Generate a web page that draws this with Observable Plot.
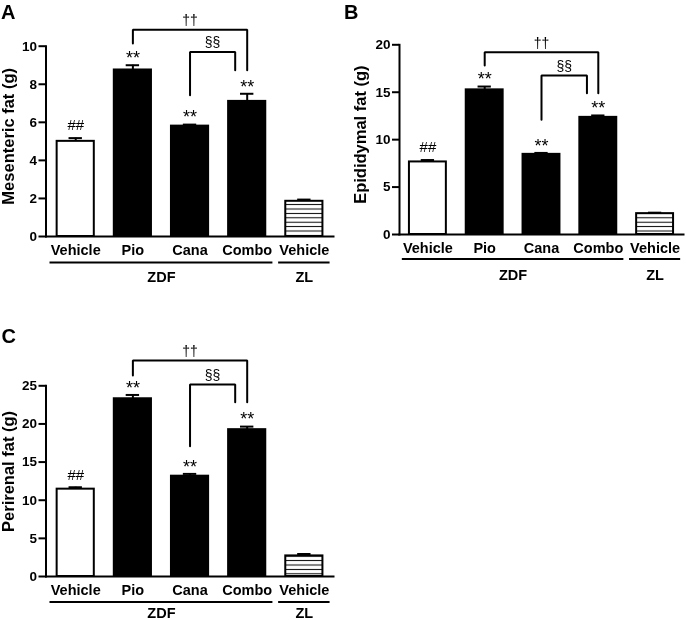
<!DOCTYPE html>
<html><head><meta charset="utf-8">
<script src="https://cdn.jsdelivr.net/npm/d3@7"></script>
<script src="https://cdn.jsdelivr.net/npm/@observablehq/plot@0.6"></script>
<style>
html,body{margin:0;padding:0;background:#fff;overflow:hidden;width:686px;height:620px}
#root{position:relative;width:686px;height:620px;font-family:"Liberation Sans",Arial,sans-serif;background:#fff}
.panel{position:absolute;will-change:transform}
.letter{position:absolute;font-weight:bold;font-size:20px;line-height:1;color:#000}
</style></head><body><div id="root"></div>
<script>
// ---- data ----
const categories = ["Vehicle", "Pio", "Cana", "Combo", "Vehicle"];
const groups = [{name: "ZDF", from: 0, to: 3}, {name: "ZL", from: 4, to: 4}];
const significance = ["##", "**", "**", "**", ""];

const mesentericMean = [5.0, 8.75, 5.8, 7.1, 1.85];
const mesentericErr  = [5.17, 9.0, 5.88, 7.5, 1.94];
const epididymalMean = [7.65, 15.25, 8.45, 12.35, 2.2];
const epididymalErr  = [7.85, 15.6, 8.6, 12.55, 2.3];
const perirenalMean  = [11.45, 23.3, 13.15, 19.25, 2.7];
const perirenalErr   = [11.7, 23.8, 13.45, 19.65, 2.95];

const mesentericTicks = [0, 2, 4, 6, 8, 10];
const epididymalTicks = [0, 5, 10, 15, 20];
const perirenalTicks  = [0, 5, 10, 15, 20, 25];

// significance brackets (x in category index, y in grams)
const mesentericBrackets = [
  {label: "††", from: 1, to: 3, level: 10.86, fromEnd: 10.14, toEnd: 8.74},
  {label: "§§", from: 2, to: 2.79, level: 9.7, fromEnd: 7.42, toEnd: 8.74}
];
const epididymalBrackets = [
  {label: "††", from: 1, to: 3, level: 19.22, fromEnd: 17.82, toEnd: 14.9},
  {label: "§§", from: 2, to: 2.8, level: 16.76, fromEnd: 12.09, toEnd: 14.9}
];
const perirenalBrackets = [
  {label: "††", from: 1, to: 3, level: 28.32, fromEnd: 26.35, toEnd: 22.85},
  {label: "§§", from: 2, to: 2.79, level: 25.17, fromEnd: 17.08, toEnd: 22.85}
];

// ---- drawing ----
const HALF = 0.325;  // half bar width (category units)
const CAP = 0.117;   // half error-cap width
const FONT = '"Liberation Sans", Arial, Helvetica, sans-serif';

function groupOf(i) { return groups.find(g => i >= g.from && i <= g.to).name; }

function panel(cfg) {
  const patId = "hatch-" + cfg.id;
  const rows = categories.map((c, i) => ({
    i, cat: c, group: groupOf(i), mean: cfg.values[i], err: cfg.errs[i], sig: significance[i]
  }));
  const fillOf = d => d.group === "ZL" ? `url(#${patId})` : (d.cat === "Vehicle" ? "white" : "black");
  const pts = cfg.brackets.flatMap(b => [
    {b: b.label, x: b.from, y: b.fromEnd},
    {b: b.label, x: b.from, y: b.level},
    {b: b.label, x: b.to, y: b.level},
    {b: b.label, x: b.to, y: b.toEnd}
  ]);
  const svg = Plot.plot({
    width: cfg.width, height: cfg.height,
    marginTop: cfg.marginTop, marginBottom: cfg.marginBottom,
    marginLeft: cfg.marginLeft, marginRight: cfg.marginRight,
    style: {fontFamily: FONT, fontWeight: "bold", background: "white", overflow: "visible", color: "black"},
    x: {domain: cfg.xDomain, axis: null},
    y: {domain: cfg.yDomain, axis: null},
    marks: [
      Plot.rect(rows, {x1: d => d.i - HALF, x2: d => d.i + HALF, y1: () => 0, y2: "mean",
        fill: fillOf, stroke: "black", strokeWidth: 2}),
      Plot.ruleX(rows, {x: "i", y1: "mean", y2: "err", stroke: "black", strokeWidth: 2}),
      Plot.ruleY(rows, {y: "err", x1: d => d.i - CAP, x2: d => d.i + CAP, stroke: "black", strokeWidth: 2}),
      Plot.frame({anchor: "left", stroke: "black", strokeWidth: 2}),
      Plot.frame({anchor: "bottom", stroke: "black", strokeWidth: 2}),
      Plot.axisY({ticks: cfg.yTicks, tickSize: 7, tickPadding: 2, fontSize: 13.5, strokeWidth: 2, label: null}),
      Plot.axisX({ticks: categories.map((_, i) => i), tickFormat: i => categories[i],
        tickSize: 0, tickPadding: 8, fontSize: 14.5, label: null}),
      Plot.text([cfg.yLabel], {frameAnchor: "left", textAnchor: "middle", lineAnchor: "middle", rotate: -90,
        dx: cfg.labelDx, dy: cfg.labelDy, fontSize: 16.5, fill: "black"}),
      Plot.text(rows.filter(d => d.sig === "**"), {x: "i", y: "err", text: "sig", dy: -7,
        fontSize: 18, fontWeight: "normal", fill: "black"}),
      Plot.text(rows.filter(d => d.sig === "##"), {x: "i", y: "err", text: "sig", dy: -12.5,
        fontSize: 15, fontWeight: "normal", fill: "black"}),
      Plot.line(pts, {x: "x", y: "y", z: "b", stroke: "black", strokeWidth: 2, strokeLinejoin: "miter", curve: "linear"}),
      Plot.text(cfg.brackets, {x: d => (d.from + d.to) / 2, y: "level", text: "label", dy: -9,
        fontSize: 14, fontWeight: "normal", fill: "black"}),
      Plot.ruleY(groups, {y: () => 0, x1: d => d.from - 0.45, x2: d => d.to + 0.45, dy: cfg.groupRuleDy,
        stroke: "black", strokeWidth: 2}),
      Plot.text(groups, {x: d => (d.from + d.to) / 2, y: () => 0, text: "name", dy: cfg.groupTextDy,
        fontSize: 14.5, fill: "black"})
    ]
  });
  const defs = d3.select(svg).insert("defs", ":first-child");
  const pat = defs.append("pattern").attr("id", patId).attr("patternUnits", "userSpaceOnUse")
    .attr("width", 8).attr("height", 4.4);
  pat.append("rect").attr("width", 8).attr("height", 4.4).attr("fill", "white");
  pat.append("line").attr("x1", 0).attr("x2", 8).attr("y1", 2.2).attr("y2", 2.2)
    .attr("stroke", "black").attr("stroke-width", 1);
  return svg;
}

const root = document.getElementById("root");
function place(node, left, top) {
  const div = document.createElement("div");
  div.className = "panel";
  div.style.left = left + "px"; div.style.top = top + "px";
  div.appendChild(node);
  root.appendChild(div);
}
function letter(t, left, top) {
  const d = document.createElement("div");
  d.className = "letter"; d.textContent = t;
  d.style.left = left + "px"; d.style.top = top + "px";
  root.appendChild(d);
}

place(panel({
  id: "a", values: mesentericMean, errs: mesentericErr, yDomain: [0, 10], yTicks: mesentericTicks,
  yLabel: "Mesenteric fat (g)", brackets: mesentericBrackets,
  width: 343, height: 290, marginTop: 45.7, marginBottom: 54, marginLeft: 45.5, marginRight: 10,
  xDomain: [-0.52, 4.51], labelDx: -36.8, labelDy: -5, groupRuleDy: 26, groupTextDy: 41
}), 0, 0);

place(panel({
  id: "b", values: epididymalMean, errs: epididymalErr, yDomain: [0, 20], yTicks: epididymalTicks,
  yLabel: "Epididymal fat (g)", brackets: epididymalBrackets,
  width: 343, height: 290, marginTop: 44.3, marginBottom: 56, marginLeft: 56, marginRight: 3,
  xDomain: [-0.5, 4.5], labelDx: -38.5, labelDy: -5, groupRuleDy: 24.5, groupTextDy: 41
}), 343, 0);

place(panel({
  id: "c", values: perirenalMean, errs: perirenalErr, yDomain: [0, 25], yTicks: perirenalTicks,
  yLabel: "Perirenal fat (g)", brackets: perirenalBrackets,
  width: 343, height: 340, marginTop: 95.3, marginBottom: 54, marginLeft: 45.5, marginRight: 10,
  xDomain: [-0.52, 4.51], labelDx: -37, labelDy: -9.7, groupRuleDy: 25.5, groupTextDy: 36.5
}), 0, 290);

letter("A", 1, 2);
letter("B", 344, 1.6);
letter("C", 1.5, 325.8);
</script>
</body></html>
